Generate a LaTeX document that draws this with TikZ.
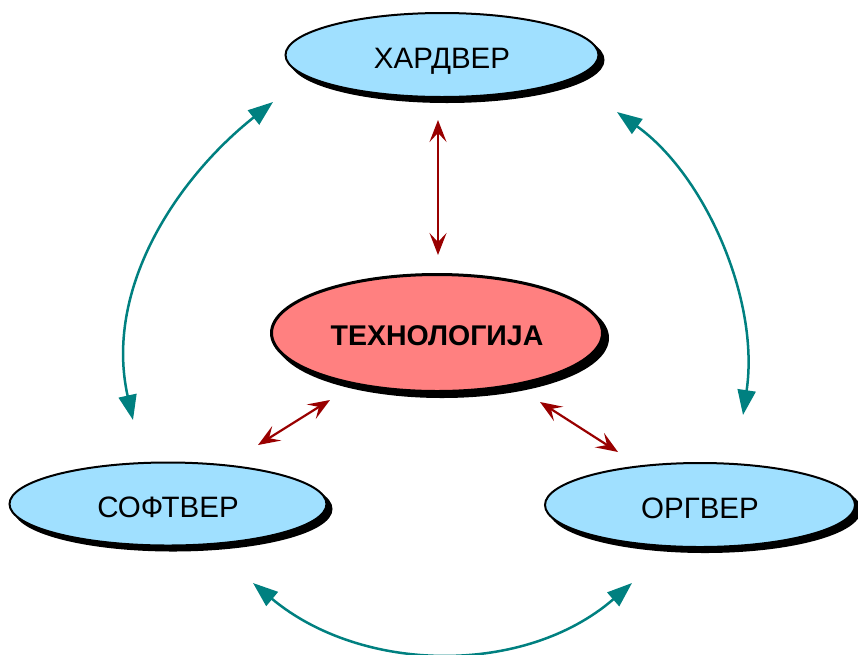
\documentclass[tikz,border=0pt]{standalone}
\usepackage{fontspec}
\setmainfont{Liberation Sans}
\usetikzlibrary{shapes.geometric,shadows,arrows.meta}
\definecolor{lblue}{HTML}{A0E0FF}
\definecolor{lred}{HTML}{FF8080}
\definecolor{tealc}{HTML}{008080}
\definecolor{dred}{HTML}{990000}
\begin{document}
\begin{tikzpicture}[x=1pt,y=-1pt,
  blob/.style={ellipse, draw=black, line width=2pt, fill=lblue, inner sep=0pt,
    font=\fontsize{29.5}{34}\selectfont, text height=26pt, text depth=0pt,
    drop shadow={shadow xshift=5pt, shadow yshift=-5pt, opacity=1, fill=black, draw=black}},
  core/.style={blob, fill=lred, line width=3pt, font=\fontsize{28.5}{33}\selectfont\bfseries, text height=25pt},
  redarrow/.style={draw=dred, line width=2.2pt, {Stealth[length=22pt,width=17pt,inset=9pt]}-{Stealth[length=22pt,width=17pt,inset=9pt]}},
  tealarrow/.style={draw=tealc, line width=2.5pt, {Triangle[length=25pt,width=18pt]}-{Triangle[length=25pt,width=18pt]}}
]
\useasboundingbox (0,0) rectangle (858,654);
\clip (0,0) rectangle (858,654);

\node[blob, minimum width=313pt, minimum height=84pt] (hw) at (442,55) {ХАРДВЕР};
\node[core, minimum width=331pt, minimum height=117pt] (tech) at (437,333) {ТЕХНОЛОГИЈА};
\node[blob, minimum width=317pt, minimum height=83pt] (sw) at (168,504) {СОФТВЕР};
\node[blob, minimum width=310pt, minimum height=84pt] (org) at (700,505) {ОРГВЕР};

% red arrows
\coordinate (v1) at (438,120);
\coordinate (v2) at (438,255);
\coordinate (l1) at (330,400);
\coordinate (l2) at (258,445);
\coordinate (q1) at (540,402);
\coordinate (q2) at (618,452);
\draw[redarrow] (v1) -- (v2);
\draw[redarrow] (l1) -- (l2);
\draw[redarrow] (q1) -- (q2);

% teal arcs
\coordinate (a1) at (133,420);
\coordinate (a2) at (273,102);
\coordinate (b1) at (743,415);
\coordinate (b2) at (617,112);
\coordinate (c1) at (253,583);
\coordinate (c2) at (632,583);
\draw[tealarrow] (a1) .. controls (104,290) and (175,180) .. (a2);
\draw[tealarrow] (b1) .. controls (760,300) and (705,175) .. (b2);
\draw[tealarrow] (c1) .. controls (362,674) and (525,676) .. (c2);
\end{tikzpicture}
\end{document}
